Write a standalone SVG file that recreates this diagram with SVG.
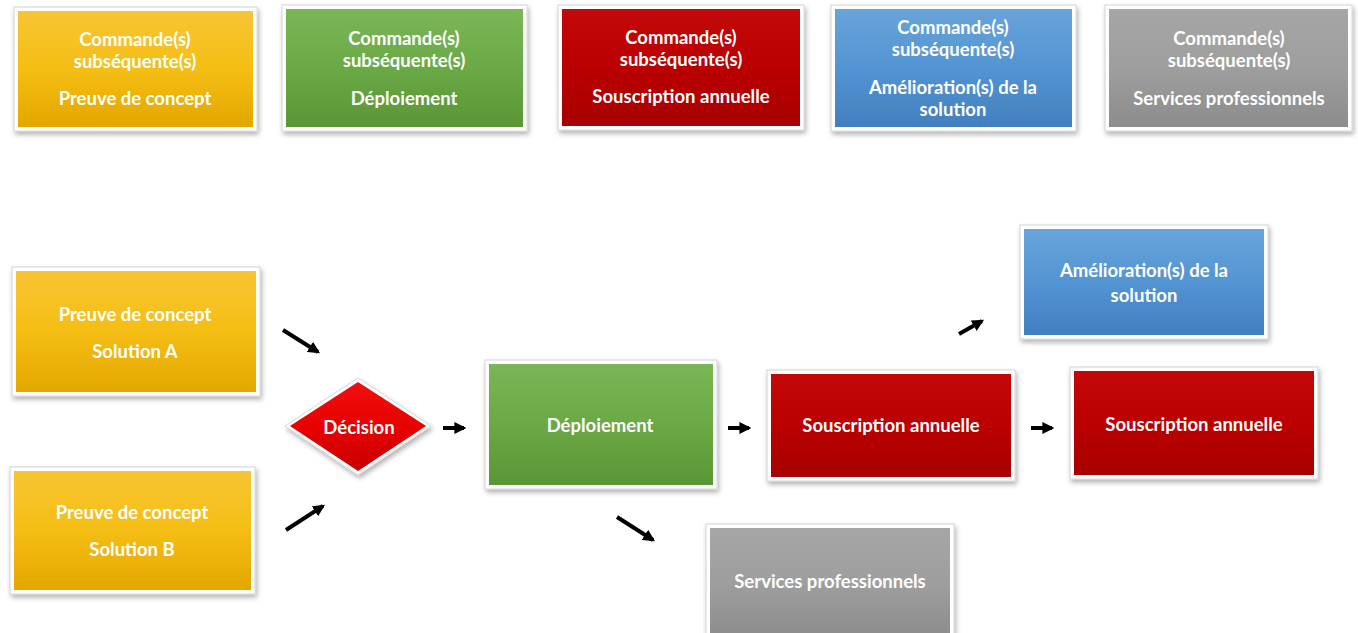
<svg xmlns="http://www.w3.org/2000/svg" width="1358" height="633" viewBox="0 0 1358 633">
<style>
.frame{fill:#fff;stroke:#d4d4d4;stroke-width:1;filter:url(#sh)}
.t{font-family:Lato,"Open Sans","Liberation Sans",sans-serif;font-weight:bold;font-size:18.5px;fill:#fff;text-anchor:middle;dominant-baseline:central}
.arr{stroke:#000;stroke-width:4;fill:none;marker-end:url(#ah)}
</style>
<defs>
<filter id="sh" x="-10%" y="-10%" width="125%" height="130%">
<feDropShadow dx="1.5" dy="3" stdDeviation="2.5" flood-color="#000" flood-opacity="0.3"/>
</filter>
<linearGradient id="gy" x1="0" y1="0" x2="0" y2="1"><stop offset="0" stop-color="#F7C535"/><stop offset="0.5" stop-color="#F5BE14"/><stop offset="1" stop-color="#E3A700"/></linearGradient>
<linearGradient id="gg" x1="0" y1="0" x2="0" y2="1"><stop offset="0" stop-color="#7BB656"/><stop offset="0.5" stop-color="#6AA946"/><stop offset="1" stop-color="#5A9636"/></linearGradient>
<linearGradient id="gr" x1="0" y1="0" x2="0" y2="1"><stop offset="0" stop-color="#C20808"/><stop offset="0.5" stop-color="#BA0000"/><stop offset="1" stop-color="#A80000"/></linearGradient>
<linearGradient id="gd" x1="0" y1="0" x2="0" y2="1"><stop offset="0" stop-color="#F01010"/><stop offset="0.5" stop-color="#E80000"/><stop offset="1" stop-color="#C80000"/></linearGradient>
<linearGradient id="gb" x1="0" y1="0" x2="0" y2="1"><stop offset="0" stop-color="#68A4DA"/><stop offset="0.5" stop-color="#5394D2"/><stop offset="1" stop-color="#437FBE"/></linearGradient>
<linearGradient id="gx" x1="0" y1="0" x2="0" y2="1"><stop offset="0" stop-color="#A6A6A6"/><stop offset="0.5" stop-color="#9E9E9E"/><stop offset="1" stop-color="#8C8C8C"/></linearGradient>
<marker id="ah" viewBox="0 0 10 10" refX="8" refY="5" markerWidth="3" markerHeight="3" orient="auto" markerUnits="strokeWidth">
<path d="M0,0 L10,5 L0,10 z" fill="#000"/>
</marker>
</defs>
<rect width="1358" height="633" fill="#fff"/>

<g id="top-poc">
<rect class="frame" x="14" y="7" width="243" height="124"/>
<rect x="18" y="11" width="235" height="116" fill="url(#gy)"/>
<text class="t" x="135" y="39">Commande(s)</text>
<text class="t" x="135" y="61">subséquente(s)</text>
<text class="t" x="135" y="98">Preuve de concept</text>
</g>
<g id="top-deploiement">
<rect class="frame" x="282" y="5" width="245" height="126"/>
<rect x="286" y="9" width="237" height="118" fill="url(#gg)"/>
<text class="t" x="404" y="38">Commande(s)</text>
<text class="t" x="404" y="60">subséquente(s)</text>
<text class="t" x="404" y="98">Déploiement</text>
</g>
<g id="top-souscription">
<rect class="frame" x="558" y="5" width="246" height="125"/>
<rect x="562" y="9" width="238" height="117" fill="url(#gr)"/>
<text class="t" x="681" y="37">Commande(s)</text>
<text class="t" x="681" y="59">subséquente(s)</text>
<text class="t" x="681" y="96">Souscription annuelle</text>
</g>
<g id="top-amelioration">
<rect class="frame" x="831" y="5" width="245" height="126"/>
<rect x="835" y="9" width="237" height="118" fill="url(#gb)"/>
<text class="t" x="953" y="27">Commande(s)</text>
<text class="t" x="953" y="49">subséquente(s)</text>
<text class="t" x="953" y="87">Amélioration(s) de la</text>
<text class="t" x="953" y="109">solution</text>
</g>
<g id="top-services">
<rect class="frame" x="1105" y="5" width="247" height="126"/>
<rect x="1109" y="9" width="239" height="118" fill="url(#gx)"/>
<text class="t" x="1229" y="38">Commande(s)</text>
<text class="t" x="1229" y="60">subséquente(s)</text>
<text class="t" x="1229" y="98">Services professionnels</text>
</g>

<g id="poc-a">
<rect class="frame" x="12" y="267" width="248" height="129"/>
<rect x="16" y="271" width="240" height="121" fill="url(#gy)"/>
<text class="t" x="135" y="314">Preuve de concept</text>
<text class="t" x="135" y="351">Solution A</text>
</g>
<g id="poc-b">
<rect class="frame" x="10" y="467" width="245" height="127"/>
<rect x="14" y="471" width="237" height="119" fill="url(#gy)"/>
<text class="t" x="132" y="512">Preuve de concept</text>
<text class="t" x="132" y="549">Solution B</text>
</g>
<g id="decision">
<polygon points="358,378 431,426 358,475 285,426" fill="#fff" stroke="#d8d8d8" stroke-width="1" filter="url(#sh)"/>
<polygon points="358,382 426,426 358,471 290,426" fill="url(#gd)"/>
<text class="t" x="359" y="427">Décision</text>
</g>
<g id="deploiement">
<rect class="frame" x="485" y="360" width="232" height="129"/>
<rect x="489" y="364" width="224" height="121" fill="url(#gg)"/>
<text class="t" x="600" y="425">Déploiement</text>
</g>
<g id="souscription-1">
<rect class="frame" x="767" y="370" width="248" height="111"/>
<rect x="771" y="374" width="240" height="103" fill="url(#gr)"/>
<text class="t" x="891" y="425">Souscription annuelle</text>
</g>
<g id="souscription-2">
<rect class="frame" x="1070" y="367" width="248" height="112"/>
<rect x="1074" y="371" width="240" height="104" fill="url(#gr)"/>
<text class="t" x="1194" y="424">Souscription annuelle</text>
</g>
<g id="amelioration">
<rect class="frame" x="1020" y="225" width="248" height="114"/>
<rect x="1024" y="229" width="240" height="106" fill="url(#gb)"/>
<text class="t" x="1144" y="270">Amélioration(s) de la</text>
<text class="t" x="1144" y="295">solution</text>
</g>
<g id="services">
<rect class="frame" x="706" y="524" width="248" height="115"/>
<rect x="710" y="528" width="240" height="110" fill="url(#gx)"/>
<text class="t" x="830" y="581">Services professionnels</text>
</g>

<g id="connectors">
<line class="arr" x1="283" y1="330" x2="318" y2="352"/>
<line class="arr" x1="286" y1="530" x2="323" y2="506"/>
<line class="arr" x1="443" y1="428" x2="464" y2="428"/>
<line class="arr" x1="728" y1="428" x2="749" y2="428"/>
<line class="arr" x1="1031" y1="428" x2="1052" y2="428"/>
<line class="arr" x1="959" y1="334" x2="982" y2="321"/>
<line class="arr" x1="617" y1="517" x2="653" y2="540"/>
</g>
</svg>
